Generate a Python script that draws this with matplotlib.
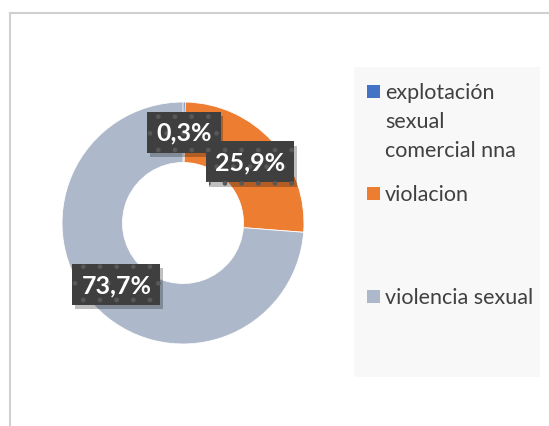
import matplotlib
matplotlib.use("Agg")
import matplotlib.pyplot as plt
import matplotlib.patheffects as pe
from matplotlib.patches import Rectangle
from matplotlib.lines import Line2D

# ---------------------------------------------------------
# data
# ---------------------------------------------------------
categories = ["explotación\nsexual\ncomercial nna", "violacion", "violencia sexual"]
values = [0.3, 25.9, 73.7]
colors = ["#4472C4", "#ED7D31", "#ADB9CA"]
pct_labels = ["{:.1f}%".format(v).replace(".", ",") for v in values]

W, H = 549, 427
fig = plt.figure(figsize=(W / 100, H / 100), dpi=100)
fig.patch.set_facecolor("white")

# chart-area border (only left and top visible in the crop)
fig.add_artist(Line2D([9.5 / W, 9.5 / W], [0, 1 - 13.5 / H], color="#d0d0d0", lw=1.5))
fig.add_artist(Line2D([9.5 / W, 1], [1 - 13.5 / H, 1 - 13.5 / H], color="#d0d0d0", lw=1.5))

# ---------------------------------------------------------
# donut
# ---------------------------------------------------------
cx, cy, r = 183, 224, 121
ax = fig.add_axes([(cx - r) / W, (H - cy - r) / H, 2 * r / W, 2 * r / H])
wedges, texts = ax.pie(
    values,
    colors=colors,
    startangle=90,
    counterclock=False,
    radius=1,
    labels=pct_labels,
    labeldistance=0.75,
    wedgeprops=dict(width=0.5, edgecolor="white", linewidth=0.6),
    textprops=dict(color="white", fontsize=18, fontweight="bold", family="Lato"),
)
ax.set_xlim(-1, 1)
ax.set_ylim(-1, 1)
ax.set_aspect("equal")
ax.axis("off")

for t in texts:
    t.set_ha("center")
    t.set_va("center")
    t.set_bbox(dict(boxstyle="square,pad=0.36", facecolor="#3f3f3f", edgecolor="#585858",
                    linewidth=0, hatch="."))
    t.get_bbox_patch().set_path_effects(
        [pe.SimplePatchShadow(offset=(2, -3), shadow_rgbFace="black", alpha=0.25), pe.Normal()])

# ---------------------------------------------------------
# legend (manual, Excel spacing)
# ---------------------------------------------------------
fig.add_artist(Rectangle((354 / W, 1 - 378 / H), (540 - 354) / W, (378 - 68) / H,
                         transform=fig.transFigure, facecolor="#f8f8f8", edgecolor="none", zorder=0))
legend_y = [93, 195, 298]
line_step = 29
for lab, col, y in zip(categories, colors, legend_y):
    fig.add_artist(Rectangle((367 / W, 1 - (y + 6) / H), 13 / W, 13 / H,
                             transform=fig.transFigure, facecolor=col, edgecolor="none"))
    # one text per line keeps the left edges flush
    for i, line in enumerate(lab.split("\n")):
        fig.text(385 / W, 1 - (y - 2 + i * line_step) / H, line, ha="left", va="center_baseline",
                 fontsize=15.5, color="#404040", family="Lato")

fig.savefig("out.png", dpi=100)
